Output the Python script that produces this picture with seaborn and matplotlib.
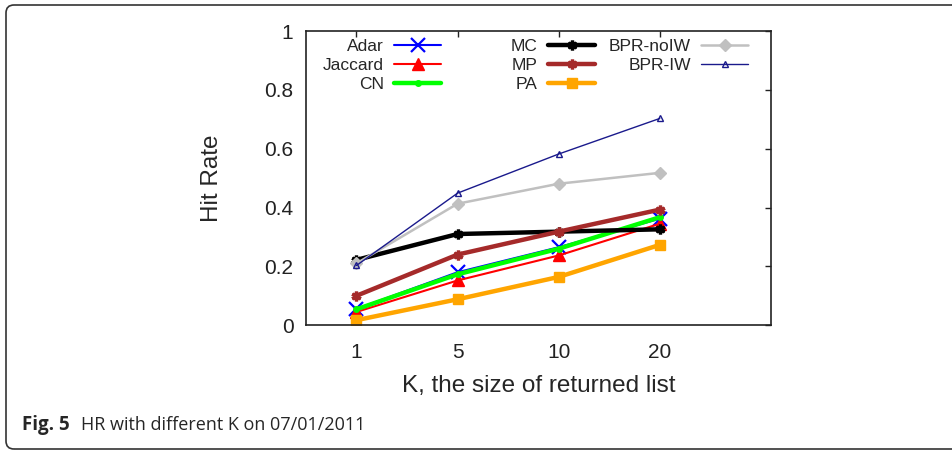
import matplotlib
matplotlib.use('Agg')
import matplotlib.pyplot as plt
import numpy as np
import pandas as pd
import seaborn as sns
from matplotlib.legend import Legend
from matplotlib.patches import FancyBboxPatch
from matplotlib.transforms import IdentityTransform

# K values on the x axis
k_labels = ['1', '5', '10', '20']

# hit rate per method
adar = [0.055, 0.180, 0.265, 0.362]
jaccard = [0.045, 0.152, 0.237, 0.345]
cn = [0.054, 0.173, 0.260, 0.367]
mc = [0.222, 0.310, 0.318, 0.326]
mp = [0.100, 0.240, 0.318, 0.393]
pa = [0.017, 0.088, 0.164, 0.273]
bpr_noiw = [0.210, 0.413, 0.481, 0.518]
bpr_iw = [0.203, 0.449, 0.582, 0.703]

methods = ['Adar', 'Jaccard', 'CN', 'MC', 'MP', 'PA', 'BPR-noIW', 'BPR-IW']
values = [adar, jaccard, cn, mc, mp, pa, bpr_noiw, bpr_iw]

styles = {
    'Adar': dict(color='#0000ff', lw=1.5, marker='x', ms=10, mew=1.6),
    'Jaccard': dict(color='#ff0000', lw=1.5, marker='^', ms=8, mew=1),
    'CN': dict(color='#00ff00', lw=3.2, marker='o', ms=4, mew=1),
    'MC': dict(color='#000000', lw=3.2, marker=(6, 2, 0), ms=7, mew=2.4),
    'MP': dict(color='#a52a2a', lw=3.2, marker=(6, 2, 0), ms=7, mew=2.4),
    'PA': dict(color='#ffa500', lw=3.2, marker='s', ms=7.5, mew=1),
    'BPR-noIW': dict(color='#c0c0c0', lw=1.8, marker='D', ms=6.5, mew=1),
    'BPR-IW': dict(color='#1a1a8c', lw=1.0, marker='^', ms=5, mew=1, mfc='none'),
}

rows = []
for name, vals in zip(methods, values):
    for i, v in enumerate(vals):
        rows.append({'method': name, 'pos': i, 'hr': v})
df = pd.DataFrame(rows)

sns.set_style('white')
plt.rcParams['font.family'] = ['Liberation Sans', 'DejaVu Sans']

W, H = 953, 451
fig = plt.figure(figsize=(W / 100, H / 100), dpi=100)
ax = fig.add_axes([0.321, 0.279, 0.488, 0.652])

for name in methods:
    st = dict(styles[name])
    sub = df[df['method'] == name]
    mfc = st.pop('mfc', st['color'])
    sns.lineplot(data=sub, x='pos', y='hr', ax=ax, label=name,
                 color=st['color'], linewidth=st['lw'], marker=st['marker'],
                 markersize=st['ms'], markeredgewidth=st['mew'],
                 markerfacecolor=mfc, markeredgecolor=st['color'])

ax.set_xlim(-0.5, 4.1)
ax.set_ylim(0, 1)
ax.set_xticks(range(len(k_labels)))
ax.set_xticklabels(k_labels)
ax.set_yticks([0, 0.2, 0.4, 0.6, 0.8, 1.0])
ax.set_yticklabels(['0', '0.2', '0.4', '0.6', '0.8', '1'])
ax.tick_params(direction='in', length=4, width=1, top=True, right=True,
               labelsize=15, colors='#222222')
ax.tick_params(axis='x', pad=13)
ax.tick_params(axis='y', pad=9)
for sp in ax.spines.values():
    sp.set_visible(True)
    sp.set_color('#222222')
    sp.set_linewidth(1.2)

ax.set_xlabel('K, the size of returned list', fontsize=17.5, labelpad=9)
ax.set_ylabel('Hit Rate', fontsize=17.5, labelpad=30)

# gnuplot-style key: three fixed columns, text right-aligned before the sample
handles, labels = ax.get_legend_handles_labels()
if ax.get_legend():
    ax.get_legend().remove()
col_right = [441, 595, 748]
groups = [[0, 1, 2], [3, 4, 5], [6, 7]]
for xr, idx in zip(col_right, groups):
    lg = Legend(ax, [handles[i] for i in idx], [labels[i] for i in idx],
                loc='upper right', bbox_to_anchor=(xr / W, 1 - 39 / H),
                bbox_transform=fig.transFigure, markerfirst=False,
                frameon=False, fontsize=12.5, handlelength=2.7,
                handletextpad=0.6, labelspacing=0.22, borderpad=0,
                borderaxespad=0, numpoints=1)
    ax.add_artist(lg)

# caption and outer box
fig.text(22 / W, 1 - 425 / H, 'Fig. 5', fontsize=13.5, fontweight='bold',
         family=['Open Sans', 'DejaVu Sans'], va='center', ha='left')
fig.text(81 / W, 1 - 425 / H, 'HR with different K on 07/01/2011', fontsize=13,
         family=['Open Sans', 'DejaVu Sans'], va='center', ha='left')

box = FancyBboxPatch((14, 10), 1100, 428, boxstyle='round,pad=8,rounding_size=8',
                     transform=IdentityTransform(), fill=False,
                     edgecolor='#333333', linewidth=1.2)
fig.patches.append(box)

fig.savefig('out.png', dpi=100)
